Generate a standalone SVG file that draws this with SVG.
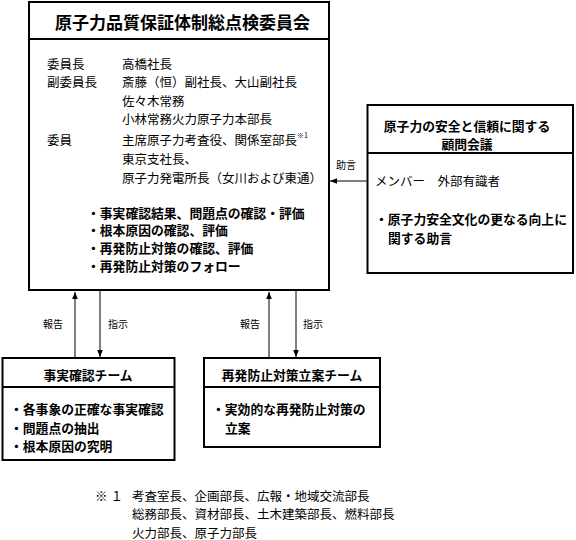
<svg xmlns="http://www.w3.org/2000/svg" width="576" height="540" viewBox="0 0 576 540">
<style>
text{font-family:"Noto Sans CJK JP","Noto Sans CJK SC",sans-serif;fill:#000;dominant-baseline:central}
.box{fill:#fff;stroke:#000;stroke-width:2}
.div{stroke:#000;stroke-width:2}
.t{font-size:12.5px}
.b{font-size:12.8px;font-weight:bold}
.s{font-size:10px}
.title{font-size:17px;font-weight:bold}
.con{stroke:#000;stroke-width:1;fill:none}
</style>
<defs>
<marker id="ah" viewBox="0 0 10 10" refX="10" refY="5" markerWidth="7" markerHeight="7" markerUnits="userSpaceOnUse" orient="auto">
<path d="M0,1 L10,5 L0,9 Z" fill="#000"/>
</marker>
</defs>
<rect width="576" height="540" fill="#fff"/>

<g id="committee">
<rect class="box" x="29" y="2" width="300" height="288"/>
<line class="div" x1="29" y1="39" x2="329" y2="39"/>
<text class="title" x="55" y="21">原子力品質保証体制総点検委員会</text>
<text class="t" x="47" y="63">委員長</text>
<text class="t" x="122" y="63">高橋社長</text>
<text class="t" x="47" y="81.5">副委員長</text>
<text class="t" x="122" y="81.5">斎藤（恒）副社長、大山副社長</text>
<text class="t" x="122" y="100">佐々木常務</text>
<text class="t" x="122" y="118.5">小林常務火力原子力本部長</text>
<text class="t" x="47" y="139">委員</text>
<text class="t" x="122" y="139">主席原子力考査役、関係室部長<tspan font-size="7" dy="-4">※1</tspan></text>
<text class="t" x="122" y="158">東京支社長、</text>
<text class="t" x="122" y="177">原子力発電所長（女川および東通）</text>
<text class="b" x="87" y="212">・事実確認結果、問題点の確認・評価</text>
<text class="b" x="87" y="229.5">・根本原因の確認、評価</text>
<text class="b" x="87" y="247">・再発防止対策の確認、評価</text>
<text class="b" x="87" y="265">・再発防止対策のフォロー</text>
</g>

<g id="advisory">
<rect class="box" x="367.5" y="105" width="205.5" height="168"/>
<line class="div" x1="367.5" y1="153" x2="573" y2="153"/>
<text class="b" x="467" y="125" text-anchor="middle">原子力の安全と信頼に関する</text>
<text class="b" x="467" y="143" text-anchor="middle">顧問会議</text>
<text class="t" x="375" y="180">メンバー　外部有識者</text>
<text class="b" x="375" y="218">・原子力安全文化の更なる向上に</text>
<text class="b" x="388" y="237">関する助言</text>
</g>

<g id="factteam">
<rect class="box" x="2.5" y="358" width="172" height="102"/>
<line class="div" x1="2.5" y1="387" x2="174.5" y2="387"/>
<text class="b" x="88" y="374" text-anchor="middle">事実確認チーム</text>
<text class="b" x="10" y="408">・各事象の正確な事実確認</text>
<text class="b" x="10" y="427">・問題点の抽出</text>
<text class="b" x="10" y="445">・根本原因の究明</text>
</g>

<g id="preventteam">
<rect class="box" x="204" y="358" width="176" height="89"/>
<line class="div" x1="204" y1="387" x2="380" y2="387"/>
<text class="b" x="292" y="374" text-anchor="middle">再発防止対策立案チーム</text>
<text class="b" x="212" y="408">・実効的な再発防止対策の</text>
<text class="b" x="225" y="427">立案</text>
</g>

<g id="footnote">
<text class="t" x="95" y="495" letter-spacing="3">※１</text>
<text class="t" x="132" y="495">考査室長、企画部長、広報・地域交流部長</text>
<text class="t" x="132" y="513">総務部長、資材部長、土木建築部長、燃料部長</text>
<text class="t" x="132" y="532">火力部長、原子力部長</text>
</g>

<g id="connectors">
<line class="con" x1="75" y1="357" x2="75" y2="292" marker-end="url(#ah)"/>
<line class="con" x1="100" y1="291" x2="100" y2="357" marker-end="url(#ah)"/>
<line class="con" x1="269" y1="357" x2="269" y2="292" marker-end="url(#ah)"/>
<line class="con" x1="296" y1="291" x2="296" y2="357" marker-end="url(#ah)"/>
<line class="con" x1="366.5" y1="181" x2="330" y2="181" marker-end="url(#ah)"/>
<text class="s" x="43" y="323">報告</text>
<text class="s" x="108" y="323">指示</text>
<text class="s" x="240" y="323">報告</text>
<text class="s" x="303" y="323">指示</text>
<text class="s" x="336" y="164">助言</text>
</g>
</svg>
